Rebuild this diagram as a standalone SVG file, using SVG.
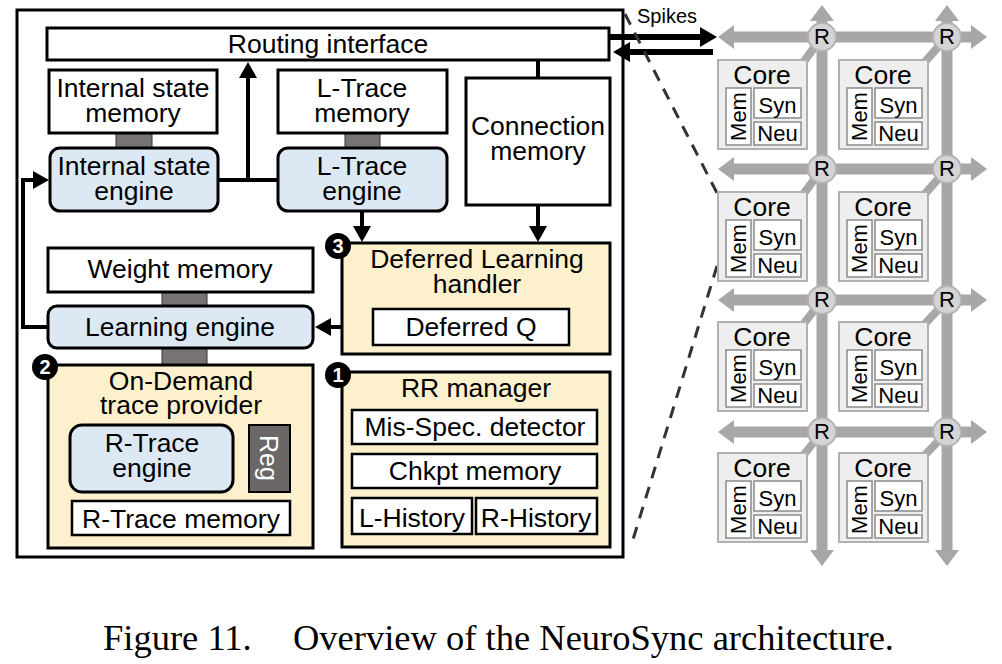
<svg xmlns="http://www.w3.org/2000/svg" width="1002" height="664" viewBox="0 0 1002 664">
<defs>
<style>
.t{font-family:"Liberation Sans",Arial,sans-serif;font-size:26.5px;fill:#000;text-anchor:middle}
.box{fill:#fff;stroke:#000;stroke-width:3}
.ibox{fill:#fff;stroke:#000;stroke-width:2.5}
.eng{fill:#dce9f5;stroke:#000;stroke-width:3}
.yel{fill:#fdf1cd;stroke:#000;stroke-width:3}
.conn{fill:#777373;stroke:#333;stroke-width:1}
.wire{fill:none;stroke:#000;stroke-width:4}
.bus{fill:none;stroke:#a9a6a6;stroke-width:11}
.diag{stroke:#a9a6a6;stroke-width:8}
.core{fill:#eeeeee;stroke:#b0b0b0;stroke-width:2}
.cin{fill:#fff;stroke:#8a8a8a;stroke-width:1.5}
.ct{font-family:"Liberation Sans",Arial,sans-serif;font-size:22px;text-anchor:middle}
.badge{fill:#000}
.bt{font-family:"Liberation Sans",Arial,sans-serif;font-size:20px;font-weight:bold;fill:#fff;text-anchor:middle}
.rt{fill:#d4d4d4;stroke:#b3b3b3;stroke-width:2}
</style>
<marker id="ah" markerUnits="userSpaceOnUse" viewBox="0 0 16 18" markerWidth="16" markerHeight="18" refX="1" refY="9" orient="auto"><path d="M0,0 L16,9 L0,18 z" fill="#000"/></marker>
<marker id="ahs" markerUnits="userSpaceOnUse" viewBox="0 0 17 20" markerWidth="17" markerHeight="20" refX="1" refY="10" orient="auto"><path d="M0,0 L17,10 L0,20 z" fill="#000"/></marker>
<marker id="gh" markerUnits="userSpaceOnUse" viewBox="0 0 16 24" markerWidth="16" markerHeight="24" refX="1" refY="12" orient="auto-start-reverse"><path d="M0,0 L16,12 L0,24 z" fill="#a9a6a6"/></marker>
</defs>
<rect width="1002" height="664" fill="#fff"/>

<g id="outer">
<rect x="17" y="10" width="606" height="547" fill="none" stroke="#000" stroke-width="3"/>
</g>

<g id="connectors">
<line class="wire" x1="218" y1="180" x2="278" y2="180"/>
<line class="wire" x1="248" y1="182" x2="248" y2="77" marker-end="url(#ah)"/>
<line class="wire" x1="538" y1="60" x2="538" y2="78"/>
<line class="wire" x1="538" y1="205" x2="538" y2="227" marker-end="url(#ah)"/>
<line class="wire" x1="362" y1="211" x2="362" y2="227" marker-end="url(#ah)"/>
<line class="wire" x1="373" y1="327" x2="330" y2="327" marker-end="url(#ah)"/>
<path class="wire" d="M48,327 H23 V180 H34" marker-end="url(#ah)"/>
<line x1="609" y1="37" x2="701" y2="37" stroke="#000" stroke-width="6" marker-end="url(#ahs)"/>
<line x1="713" y1="52" x2="629" y2="52" stroke="#000" stroke-width="6" marker-end="url(#ahs)"/>
<line x1="625" y1="14" x2="717" y2="193" stroke="#333" stroke-width="3" stroke-dasharray="12 9"/>
<line x1="717" y1="266" x2="631" y2="546" stroke="#333" stroke-width="3" stroke-dasharray="12 9"/>
<rect class="conn" x="116" y="133" width="36" height="15"/>
<rect class="conn" x="345" y="133" width="35" height="15"/>
<rect class="conn" x="162" y="292" width="45" height="14"/>
<rect class="conn" x="162" y="348" width="45" height="17"/>
</g>

<g id="routing-interface">
<rect class="box" x="47" y="28" width="562" height="32"/>
<text class="t" x="328" y="53">Routing interface</text>
</g>
<g id="internal-state-memory">
<rect class="box" x="49" y="70" width="168" height="63"/>
<text class="t" x="133" y="97">Internal state</text>
<text class="t" x="133" y="122">memory</text>
</g>
<g id="internal-state-engine">
<rect class="eng" x="50" y="148" width="168" height="63" rx="10"/>
<text class="t" x="134" y="175">Internal state</text>
<text class="t" x="134" y="200">engine</text>
</g>
<g id="l-trace-memory">
<rect class="box" x="278" y="70" width="169" height="63"/>
<text class="t" x="362" y="97">L-Trace</text>
<text class="t" x="362" y="122">memory</text>
</g>
<g id="l-trace-engine">
<rect class="eng" x="278" y="148" width="169" height="63" rx="10"/>
<text class="t" x="362" y="175">L-Trace</text>
<text class="t" x="362" y="200">engine</text>
</g>
<g id="connection-memory">
<rect class="box" x="466" y="78" width="144" height="127"/>
<text class="t" x="538" y="135">Connection</text>
<text class="t" x="538" y="160">memory</text>
</g>
<g id="weight-memory">
<rect class="box" x="48" y="248" width="265" height="44"/>
<text class="t" x="180" y="278">Weight memory</text>
</g>
<g id="learning-engine">
<rect class="eng" x="48" y="306" width="265" height="42" rx="9"/>
<text class="t" x="180" y="336">Learning engine</text>
</g>
<g id="on-demand-trace-provider">
<rect class="yel" x="48" y="365" width="265" height="183"/>
<text class="t" x="181" y="390">On-Demand</text>
<text class="t" x="181" y="414">trace provider</text>
<rect class="eng" x="70" y="425" width="163" height="67" rx="12"/>
<text class="t" x="152" y="452">R-Trace</text>
<text class="t" x="152" y="477">engine</text>
<rect x="249" y="425" width="41" height="67" fill="#6b6767" stroke="#000" stroke-width="2"/>
<text x="269" y="458" transform="rotate(90 269 458)" font-family="Liberation Sans, Arial, sans-serif" font-size="25" fill="#fff" text-anchor="middle" dominant-baseline="central">Reg</text>
<rect class="ibox" x="72" y="501" width="218" height="34"/>
<text class="t" x="181" y="528">R-Trace memory</text>
<circle class="badge" cx="45" cy="367" r="13"/>
<text class="bt" x="45" y="374">2</text>
</g>
<g id="deferred-learning-handler">
<rect class="yel" x="342" y="243" width="268" height="111"/>
<text class="t" x="477" y="268">Deferred Learning</text>
<text class="t" x="477" y="293">handler</text>
<rect class="ibox" x="373" y="309" width="196" height="36"/>
<text class="t" x="471" y="336">Deferred Q</text>
<circle class="badge" cx="338" cy="246" r="13"/>
<text class="bt" x="338" y="253">3</text>
</g>
<g id="rr-manager">
<rect class="yel" x="342" y="372" width="268" height="175"/>
<text class="t" x="476" y="397">RR manager</text>
<rect class="ibox" x="352" y="410" width="245" height="34"/>
<text class="t" x="475" y="436">Mis-Spec. detector</text>
<rect class="ibox" x="352" y="454" width="245" height="34"/>
<text class="t" x="475" y="480">Chkpt memory</text>
<rect class="ibox" x="352" y="498" width="120" height="36"/>
<text class="t" x="412" y="527">L-History</text>
<rect class="ibox" x="476" y="498" width="121" height="36"/>
<text class="t" x="536" y="527">R-History</text>
<circle class="badge" cx="338" cy="375" r="13"/>
<text class="bt" x="338" y="382">1</text>
</g>

<g id="spikes-label">
<text x="667" y="23" font-family="Liberation Sans, Arial, sans-serif" font-size="20" text-anchor="middle">Spikes</text>
</g>

<g id="mesh">
<line class="bus" x1="733" y1="37" x2="972" y2="37" marker-start="url(#gh)" marker-end="url(#gh)"/>
<line class="bus" x1="733" y1="169" x2="972" y2="169" marker-start="url(#gh)" marker-end="url(#gh)"/>
<line class="bus" x1="733" y1="300" x2="972" y2="300" marker-start="url(#gh)" marker-end="url(#gh)"/>
<line class="bus" x1="733" y1="432" x2="972" y2="432" marker-start="url(#gh)" marker-end="url(#gh)"/>
<line class="bus" x1="822" y1="20" x2="822" y2="551" marker-start="url(#gh)" marker-end="url(#gh)"/>
<line class="bus" x1="947" y1="20" x2="947" y2="551" marker-start="url(#gh)" marker-end="url(#gh)"/>
<line class="diag" x1="802" y1="64" x2="822" y2="37"/>
<line class="diag" x1="923" y1="64" x2="947" y2="37"/>
<line class="diag" x1="802" y1="196" x2="822" y2="169"/>
<line class="diag" x1="923" y1="196" x2="947" y2="169"/>
<line class="diag" x1="802" y1="326" x2="822" y2="300"/>
<line class="diag" x1="923" y1="326" x2="947" y2="300"/>
<line class="diag" x1="802" y1="457" x2="822" y2="432"/>
<line class="diag" x1="923" y1="457" x2="947" y2="432"/>
</g>

<g id="core-1-1" transform="translate(718,60)"><rect class="core" width="89" height="89"/><text class="t" x="44" y="24">Core</text><rect class="cin" x="8" y="28" width="25" height="57"/><text class="ct" transform="translate(20.5,56.5) rotate(-90)" dominant-baseline="central">Mem</text><rect class="cin" x="36" y="28" width="47" height="30"/><text class="ct" x="59.5" y="53">Syn</text><rect class="cin" x="36" y="62" width="47" height="23"/><text class="ct" x="59.5" y="81">Neu</text></g>
<g id="core-1-2" transform="translate(839,60)"><rect class="core" width="89" height="89"/><text class="t" x="44" y="24">Core</text><rect class="cin" x="8" y="28" width="25" height="57"/><text class="ct" transform="translate(20.5,56.5) rotate(-90)" dominant-baseline="central">Mem</text><rect class="cin" x="36" y="28" width="47" height="30"/><text class="ct" x="59.5" y="53">Syn</text><rect class="cin" x="36" y="62" width="47" height="23"/><text class="ct" x="59.5" y="81">Neu</text></g>
<g id="core-2-1" transform="translate(718,192)"><rect class="core" width="89" height="89"/><text class="t" x="44" y="24">Core</text><rect class="cin" x="8" y="28" width="25" height="57"/><text class="ct" transform="translate(20.5,56.5) rotate(-90)" dominant-baseline="central">Mem</text><rect class="cin" x="36" y="28" width="47" height="30"/><text class="ct" x="59.5" y="53">Syn</text><rect class="cin" x="36" y="62" width="47" height="23"/><text class="ct" x="59.5" y="81">Neu</text></g>
<g id="core-2-2" transform="translate(839,192)"><rect class="core" width="89" height="89"/><text class="t" x="44" y="24">Core</text><rect class="cin" x="8" y="28" width="25" height="57"/><text class="ct" transform="translate(20.5,56.5) rotate(-90)" dominant-baseline="central">Mem</text><rect class="cin" x="36" y="28" width="47" height="30"/><text class="ct" x="59.5" y="53">Syn</text><rect class="cin" x="36" y="62" width="47" height="23"/><text class="ct" x="59.5" y="81">Neu</text></g>
<g id="core-3-1" transform="translate(718,322)"><rect class="core" width="89" height="89"/><text class="t" x="44" y="24">Core</text><rect class="cin" x="8" y="28" width="25" height="57"/><text class="ct" transform="translate(20.5,56.5) rotate(-90)" dominant-baseline="central">Mem</text><rect class="cin" x="36" y="28" width="47" height="30"/><text class="ct" x="59.5" y="53">Syn</text><rect class="cin" x="36" y="62" width="47" height="23"/><text class="ct" x="59.5" y="81">Neu</text></g>
<g id="core-3-2" transform="translate(839,322)"><rect class="core" width="89" height="89"/><text class="t" x="44" y="24">Core</text><rect class="cin" x="8" y="28" width="25" height="57"/><text class="ct" transform="translate(20.5,56.5) rotate(-90)" dominant-baseline="central">Mem</text><rect class="cin" x="36" y="28" width="47" height="30"/><text class="ct" x="59.5" y="53">Syn</text><rect class="cin" x="36" y="62" width="47" height="23"/><text class="ct" x="59.5" y="81">Neu</text></g>
<g id="core-4-1" transform="translate(718,453)"><rect class="core" width="89" height="89"/><text class="t" x="44" y="24">Core</text><rect class="cin" x="8" y="28" width="25" height="57"/><text class="ct" transform="translate(20.5,56.5) rotate(-90)" dominant-baseline="central">Mem</text><rect class="cin" x="36" y="28" width="47" height="30"/><text class="ct" x="59.5" y="53">Syn</text><rect class="cin" x="36" y="62" width="47" height="23"/><text class="ct" x="59.5" y="81">Neu</text></g>
<g id="core-4-2" transform="translate(839,453)"><rect class="core" width="89" height="89"/><text class="t" x="44" y="24">Core</text><rect class="cin" x="8" y="28" width="25" height="57"/><text class="ct" transform="translate(20.5,56.5) rotate(-90)" dominant-baseline="central">Mem</text><rect class="cin" x="36" y="28" width="47" height="30"/><text class="ct" x="59.5" y="53">Syn</text><rect class="cin" x="36" y="62" width="47" height="23"/><text class="ct" x="59.5" y="81">Neu</text></g>

<g id="routers">
<circle class="rt" cx="822" cy="37" r="14"/><text class="ct" x="822" y="44" font-size="19">R</text>
<circle class="rt" cx="947" cy="37" r="14"/><text class="ct" x="947" y="44" font-size="19">R</text>
<circle class="rt" cx="822" cy="169" r="14"/><text class="ct" x="822" y="176" font-size="19">R</text>
<circle class="rt" cx="947" cy="169" r="14"/><text class="ct" x="947" y="176" font-size="19">R</text>
<circle class="rt" cx="822" cy="300" r="14"/><text class="ct" x="822" y="307" font-size="19">R</text>
<circle class="rt" cx="947" cy="300" r="14"/><text class="ct" x="947" y="307" font-size="19">R</text>
<circle class="rt" cx="822" cy="432" r="14"/><text class="ct" x="822" y="439" font-size="19">R</text>
<circle class="rt" cx="947" cy="432" r="14"/><text class="ct" x="947" y="439" font-size="19">R</text>
</g>

<g id="caption" font-family="Liberation Serif, 'Times New Roman', serif" font-size="36.5">
<text x="103" y="650">Figure 11.</text>
<text x="293" y="650">Overview of the NeuroSync architecture.</text>
</g>
</svg>
